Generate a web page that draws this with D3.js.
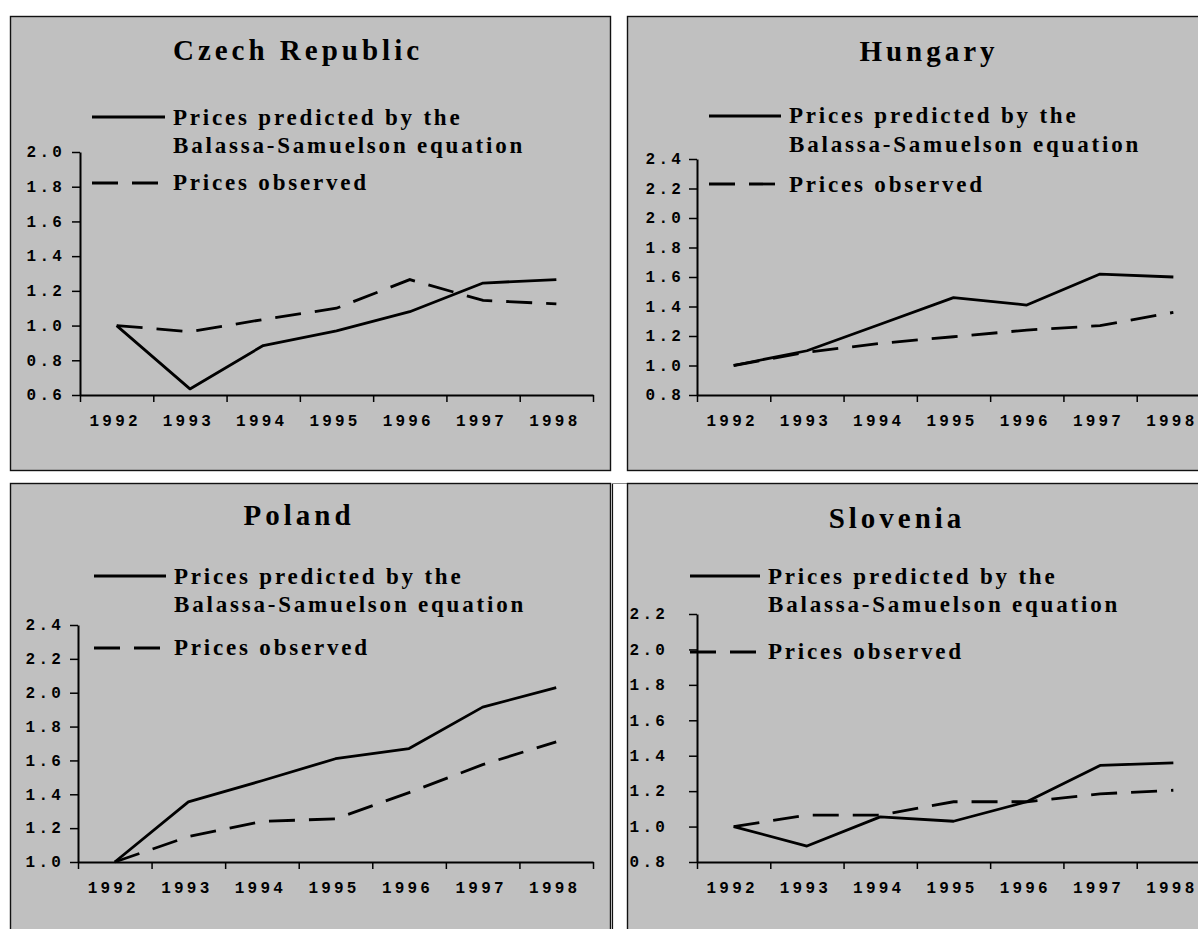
<html>
<head>
	<meta charset="UTF-8">
	<title>Balassa-Samuelson prices</title>
	<script type="text/javascript" src="https://d3js.org/d3.v7.min.js"></script>
	<style>
		body {
			padding: 0;
			margin: 0;
			background: #fff;
		}
	</style>
</head>

<body>
	<script>
		var w = 1198,
			h = 929;

		// data
		var years = ["1992", "1993", "1994", "1995", "1996", "1997", "1998"];
		var legendLabels = ["Prices predicted by the", "Balassa-Samuelson equation", "Prices observed"];

		var czechPredicted = [1.00, 0.635, 0.885, 0.97, 1.08, 1.245, 1.265];
		var czechObserved = [1.00, 0.965, 1.035, 1.10, 1.265, 1.145, 1.125];
		var czechTicks = [0.6, 0.8, 1.0, 1.2, 1.4, 1.6, 1.8, 2.0];

		var hungaryPredicted = [1.00, 1.10, 1.28, 1.46, 1.41, 1.62, 1.60];
		var hungaryObserved = [1.00, 1.09, 1.15, 1.195, 1.24, 1.27, 1.36];
		var hungaryTicks = [0.8, 1.0, 1.2, 1.4, 1.6, 1.8, 2.0, 2.2, 2.4];

		var polandPredicted = [1.00, 1.355, 1.48, 1.61, 1.67, 1.915, 2.03];
		var polandObserved = [1.00, 1.15, 1.24, 1.255, 1.41, 1.575, 1.71];
		var polandTicks = [1.0, 1.2, 1.4, 1.6, 1.8, 2.0, 2.2, 2.4];

		var sloveniaPredicted = [1.00, 0.89, 1.055, 1.03, 1.14, 1.345, 1.36];
		var sloveniaObserved = [1.00, 1.065, 1.065, 1.14, 1.14, 1.185, 1.205];
		var sloveniaTicks = [0.8, 1.0, 1.2, 1.4, 1.6, 1.8, 2.0, 2.2];

		// layout of the four boxes (positions only, no values)
		var panels = [
			{ title: "Czech Republic", pred: czechPredicted, obs: czechObserved, ticks: czechTicks,
			  box: [10, 16, 600, 454], titleX: 298, titleY: 60,
			  x0: 80, x1: 593, yTop: 152, yBot: 395, labelGap: 7,
			  leg: { l0: 92, l1: 165, tx: 173, sy: 117, b1: 125, b2: 153, dy: 183, b3: 190 } },
			{ title: "Hungary", pred: hungaryPredicted, obs: hungaryObserved, ticks: hungaryTicks,
			  box: [627, 16, 620, 454], titleX: 929, titleY: 61,
			  x0: 697, x1: 1210, yTop: 159, yBot: 395, labelGap: 5,
			  leg: { l0: 709, l1: 781, tx: 789, sy: 116, b1: 123, b2: 152, dy: 184, b3: 192 } },
			{ title: "Poland", pred: polandPredicted, obs: polandObserved, ticks: polandTicks,
			  box: [10, 483, 600, 470], titleX: 299, titleY: 525,
			  x0: 78, x1: 593, yTop: 625, yBot: 862, labelGap: 6,
			  leg: { l0: 94, l1: 166, tx: 174, sy: 576, b1: 584, b2: 612, dy: 648, b3: 655 } },
			{ title: "Slovenia", pred: sloveniaPredicted, obs: sloveniaObserved, ticks: sloveniaTicks,
			  box: [627, 483, 620, 470], titleX: 897, titleY: 528,
			  x0: 697, x1: 1210, yTop: 614, yBot: 862, labelGap: 21,
			  leg: { l0: 690, l1: 760, tx: 768, sy: 576, b1: 584, b2: 612, dy: 652, b3: 659 } }
		];

		var serif = "'Liberation Serif', 'Times New Roman', Times, serif",
			mono = "'Liberation Mono', 'Courier New', Courier, monospace",
			dash = "26,14",
			fmt = d3.format(".1f");

		var svg = d3.select("body").append("svg")
			.attr("width", w)
			.attr("height", h);

		// extra outer frame line to the left of Slovenia
		svg.append("line")
			.attr("x1", 612.5).attr("x2", 612.5)
			.attr("y1", 483).attr("y2", h)
			.attr("stroke", "#111").attr("stroke-width", 1.2);
		svg.append("line")
			.attr("x1", 612).attr("x2", 627)
			.attr("y1", 483.5).attr("y2", 483.5)
			.attr("stroke", "#888").attr("stroke-width", 1);

		function drawPanel(p) {
			var g = svg.append("g");

			g.append("rect")
				.attr("x", p.box[0] + 0.5)
				.attr("y", p.box[1] + 0.5)
				.attr("width", p.box[2])
				.attr("height", p.box[3])
				.attr("fill", "#c0c0c0")
				.attr("stroke", "#111")
				.attr("stroke-width", 1.4);

			g.append("text")
				.attr("x", p.titleX)
				.attr("y", p.titleY)
				.attr("text-anchor", "middle")
				.style("font-family", serif)
				.style("font-weight", "bold")
				.style("font-size", "29px")
				.style("letter-spacing", "4px")
				.text(p.title);

			var x = d3.scaleBand().domain(years).range([p.x0, p.x1]);
			var edges = d3.scaleLinear().domain([0, years.length]).range([p.x0, p.x1]);
			var y = d3.scaleLinear().domain([p.ticks[0], p.ticks[p.ticks.length - 1]]).range([p.yBot, p.yTop]);

			// y axis
			var yAxis = g.append("g")
				.attr("transform", "translate(" + p.x0 + ",0)")
				.call(d3.axisLeft(y).tickValues(p.ticks).tickFormat(fmt).tickSize(8).tickSizeOuter(0).tickPadding(p.labelGap));
			yAxis.select(".domain").attr("stroke", "#000").attr("stroke-width", 2);
			yAxis.selectAll(".tick line").attr("stroke", "#000").attr("stroke-width", 1.5);
			yAxis.selectAll(".tick text")
				.attr("dy", "0.3em")
				.attr("fill", "#000")
				.style("font-family", mono)
				.style("font-weight", "bold")
				.style("font-size", "16px")
				.style("letter-spacing", "3.2px");

			// x axis: marks between categories, labels centred in them
			var xMarks = g.append("g")
				.attr("transform", "translate(0," + p.yBot + ")")
				.call(d3.axisBottom(edges).tickValues(d3.range(years.length + 1)).tickFormat("").tickSize(7).tickSizeOuter(0));
			xMarks.select(".domain").attr("stroke", "#000").attr("stroke-width", 2);
			xMarks.selectAll(".tick line").attr("stroke", "#000").attr("stroke-width", 1.5);

			var xLabels = g.append("g")
				.attr("transform", "translate(-1.5," + p.yBot + ")")
				.call(d3.axisBottom(x).tickSize(0).tickPadding(20));
			xLabels.select(".domain").remove();
			xLabels.selectAll(".tick text")
				.attr("fill", "#000")
				.style("font-family", mono)
				.style("font-weight", "bold")
				.style("font-size", "16px")
				.style("letter-spacing", "3.2px");

			var line = d3.line()
				.x(function (d, i) { return x(years[i]) + x.bandwidth() / 2; })
				.y(function (d) { return y(d); });

			g.append("path")
				.datum(p.obs)
				.attr("d", line)
				.attr("fill", "none")
				.attr("stroke", "#000")
				.attr("stroke-width", 2.8)
				.attr("stroke-dasharray", dash);

			g.append("path")
				.datum(p.pred)
				.attr("d", line)
				.attr("fill", "none")
				.attr("stroke", "#000")
				.attr("stroke-width", 2.8)
				.attr("stroke-linejoin", "round");

			// legend
			var L = p.leg;
			g.append("line")
				.attr("x1", L.l0).attr("x2", L.l1)
				.attr("y1", L.sy).attr("y2", L.sy)
				.attr("stroke", "#000").attr("stroke-width", 2.8);
			g.append("line")
				.attr("x1", L.l0).attr("x2", L.l1)
				.attr("y1", L.dy).attr("y2", L.dy)
				.attr("stroke", "#000").attr("stroke-width", 2.8)
				.attr("stroke-dasharray", dash);

			var lines = [L.b1, L.b2, L.b3];
			legendLabels.forEach(function (t, i) {
				g.append("text")
					.attr("x", L.tx)
					.attr("y", lines[i])
					.style("font-family", serif)
					.style("font-weight", "bold")
					.style("font-size", "23px")
					.style("letter-spacing", "2.8px")
					.text(t);
			});
		}

		panels.forEach(drawPanel);
	</script>
</body>
</html>
